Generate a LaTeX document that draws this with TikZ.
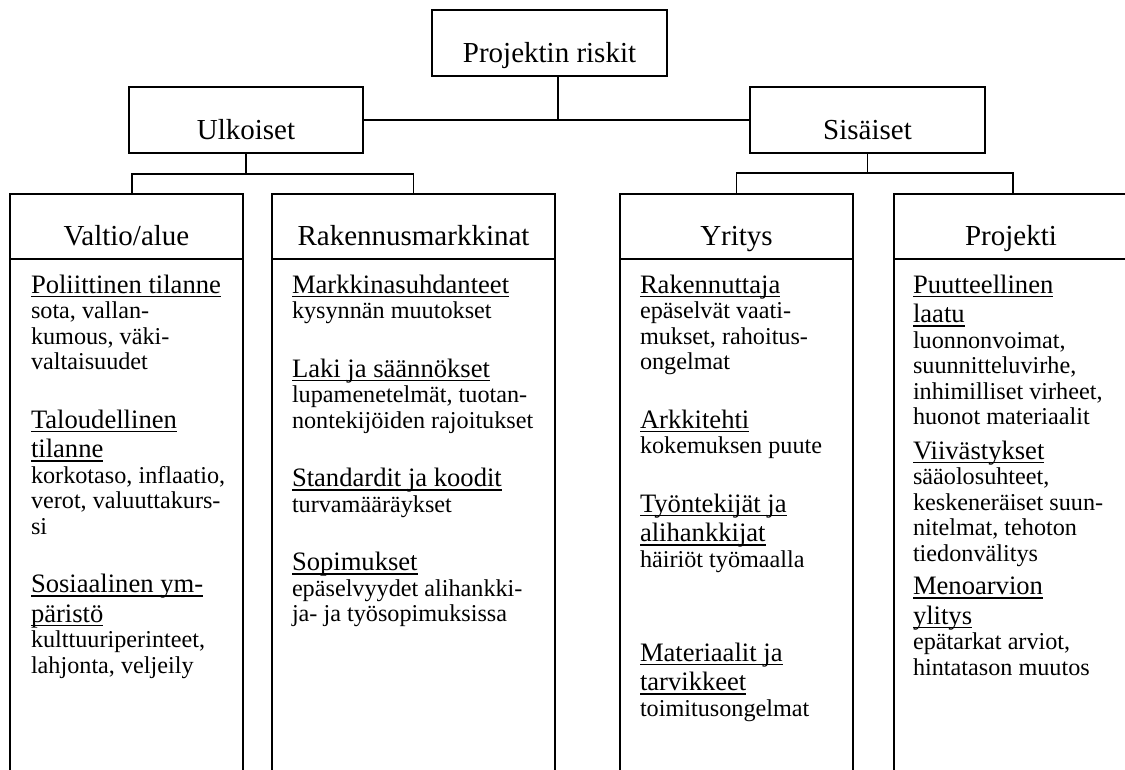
\documentclass[tikz,border=0pt]{standalone}
\usepackage{fontspec}
\setmainfont{Liberation Serif}

% fonts for the risk lists
\newcommand\rkheadfont{\fontsize{26.6pt}{29.5pt}\selectfont}
\newcommand\rkbodyfont{\fontsize{24.2pt}{25.5pt}\selectfont}
% underline at a fixed depth below the baseline
\newcommand\rkul[1]{\setbox0=\hbox{#1}\rlap{\rule[-4pt]{\wd0}{1.3pt}}\box0}
% one underlined heading line / one plain line of a list
\newcommand\rkhead[1]{\baselineskip=29.5pt\hbox{\rkheadfont\rkul{#1}}}
\newcommand\rkbody[1]{\baselineskip=25.5pt\hbox{\rkbodyfont #1}}
\newcommand\rkstack[1]{\vtop{\lineskiplimit=-\maxdimen\lineskip=0pt #1}}

\begin{document}
\begin{tikzpicture}[x=1pt,y=-1pt,line width=1.3pt,
  topbox/.style={draw,rectangle,inner sep=0pt,outer sep=0pt,
    font=\fontsize{29pt}{33pt}\selectfont,
    text height=52pt,text depth=14pt,minimum width=#1},
  colhead/.style={draw,rectangle,inner sep=0pt,outer sep=0pt,
    font=\fontsize{29pt}{33pt}\selectfont,
    text height=51pt,text depth=14pt,minimum width=#1},
  sect/.style={anchor=base west,inner sep=0pt,outer sep=0pt}]
\useasboundingbox (0,0) rectangle (1125,769);

% top of the tree
\node[topbox=235pt] (root) at (549.5,43) {Projektin riskit};
\node[topbox=234pt] (ulk) at (246,120) {Ulkoiset};
\node[topbox=235pt] (sis) at (867.5,120) {Sisäiset};

% column headers
\node[colhead=233pt] (valtio) at (126.5,226.5) {Valtio/alue};
\node[colhead=283pt] (rak) at (413.5,226.5) {Rakennusmarkkinat};
\node[colhead=233pt] (yri) at (736.5,226.5) {Yritys};
\node[colhead=234pt] (proj) at (1011,226.5) {Projekti};

% open column sides running down past the page edge
\foreach \c in {valtio,rak,yri,proj}{
  \draw (\c.south west) -- ++(0,530);
  \draw (\c.south east) -- ++(0,530);
}

% connectors
\coordinate (rj) at (558,120);
\draw (ulk.east) -- (sis.west);
\draw (root.south -| rj) -- (rj);

\coordinate (uj) at (0,174);
\draw (ulk.south) -- (ulk.south |- uj);
\draw ([xshift=5.5pt]valtio.north) -- ([xshift=5.5pt]valtio.north |- uj)
  -- (rak.north |- uj) -- (rak.north);

\coordinate (sj) at (0,173);
\draw (sis.south) -- (sis.south |- sj);
\draw (yri.north) -- (yri.north |- sj)
  -- ([xshift=2pt]proj.north |- sj) -- ([xshift=2pt]proj.north);

% Valtio/alue
\node[sect] (v1) at (31,293) {\rkstack{\rkhead{Poliittinen tilanne}
  \rkbody{sota, vallan-}\rkbody{kumous, väki-}\rkbody{valtaisuudet}}};
\node[sect] (v2) at (31,428) {\rkstack{\rkhead{Taloudellinen}\rkhead{tilanne}
  \rkbody{korkotaso, inflaatio,}\rkbody{verot, valuuttakurs-}\rkbody{si}}};
\node[sect] (v3) at (31,592.5) {\rkstack{\rkhead{Sosiaalinen ym-}\rkhead{päristö}
  \rkbody{kulttuuriperinteet,}\rkbody{lahjonta, veljeily}}};

% Rakennusmarkkinat
\node[sect] (r1) at (292,293) {\rkstack{\rkhead{Markkinasuhdanteet}
  \rkbody{kysynnän muutokset}}};
\node[sect] (r2) at (292,377) {\rkstack{\rkhead{Laki ja säännökset}
  \rkbody{lupamenetelmät, tuotan-}\rkbody{nontekijöiden rajoitukset}}};
\node[sect] (r3) at (292,486.5) {\rkstack{\rkhead{Standardit ja koodit}
  \rkbody{turvamääräykset}}};
\node[sect] (r4) at (292,570.5) {\rkstack{\rkhead{Sopimukset}
  \rkbody{epäselvyydet alihankki-}\rkbody{ja- ja työsopimuksissa}}};

% Yritys
\node[sect] (y1) at (640,293) {\rkstack{\rkhead{Rakennuttaja}
  \rkbody{epäselvät vaati-}\rkbody{mukset, rahoitus-}\rkbody{ongelmat}}};
\node[sect] (y2) at (640,428) {\rkstack{\rkhead{Arkkitehti}
  \rkbody{kokemuksen puute}}};
\node[sect] (y3) at (640,512) {\rkstack{\rkhead{Työntekijät ja}\rkhead{alihankkijat}
  \rkbody{häiriöt työmaalla}}};
\node[sect] (y4) at (640,661) {\rkstack{\rkhead{Materiaalit ja}\rkhead{tarvikkeet}
  \rkbody{toimitusongelmat}}};

% Projekti
\node[sect] (p1) at (913,293) {\rkstack{\rkhead{Puutteellinen}\rkhead{laatu}
  \rkbody{luonnonvoimat,}\rkbody{suunnitteluvirhe,}
  \rkbody{inhimilliset virheet,}\rkbody{huonot materiaalit}}};
\node[sect] (p2) at (913,459) {\rkstack{\rkhead{Viivästykset}
  \rkbody{sääolosuhteet,}\rkbody{keskeneräiset suun-}
  \rkbody{nitelmat, tehoton}\rkbody{tiedonvälitys}}};
\node[sect] (p3) at (913,594.5) {\rkstack{\rkhead{Menoarvion}\rkhead{ylitys}
  \rkbody{epätarkat arviot,}\rkbody{hintatason muutos}}};
\end{tikzpicture}
\end{document}
